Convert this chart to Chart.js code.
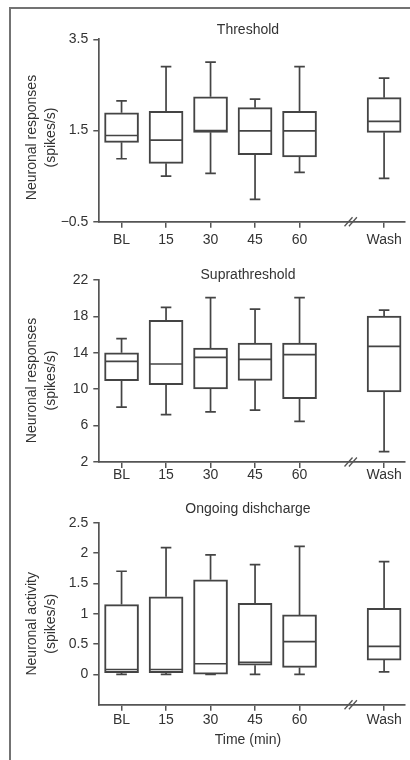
<!DOCTYPE html>
<html>
<head>
<meta charset="utf-8">
<script src="https://cdn.jsdelivr.net/npm/chart.js@4.4.1/dist/chart.umd.min.js"></script>
<style>
html,body{margin:0;padding:0;background:#fff;width:410px;height:760px;overflow:hidden}
#frame{position:absolute;left:9px;top:7px;width:420px;height:780px;border-left:2px solid #737373;border-top:2px solid #737373}
canvas{position:absolute;left:0;display:block}
</style>
</head>
<body>
<div id="frame"></div>
<canvas id="c1" width="410" height="258" style="top:0px"></canvas>
<canvas id="c2" width="410" height="245" style="top:250px"></canvas>
<canvas id="c3" width="410" height="270" style="top:490px"></canvas>
<script>
// ---------- data ----------
const categories = ['BL', '15', '30', '45', '60', 'Wash'];
const timeSlots = [0, 1, 2, 3, 4, 5.9];   // ordinal slots (axis is broken before Wash)
const breakSlot = 5.15;

const thresholdMin    = [0.88, 0.50, 0.56, -0.01, 0.58, 0.45];
const thresholdQ1     = [1.24, 0.78, 1.46, 0.97, 0.92, 1.46];
const thresholdMedian = [1.39, 1.29, 1.50, 1.49, 1.49, 1.70];
const thresholdQ3     = [1.89, 1.92, 2.24, 2.00, 1.92, 2.22];
const thresholdMax    = [2.15, 2.90, 3.00, 2.19, 2.90, 2.65];
const thresholdTicks  = [-0.5, 1.5, 3.5];

const supraMin    = [8.04, 7.2, 7.5, 7.71, 6.47, 3.14];
const supraQ1     = [10.94, 10.5, 10.02, 10.97, 8.96, 9.69];
const supraMedian = [13.06, 12.77, 13.5, 13.28, 13.8, 14.71];
const supraQ3     = [14.0, 17.57, 14.53, 15.08, 15.08, 18.04];
const supraMax    = [15.55, 19.0, 20.06, 18.8, 20.06, 18.7];
const supraTicks  = [2, 6, 10, 14, 18, 22];

const ongoingMin    = [0, 0, 0, 0, 0, 0.04];
const ongoingQ1     = [0.03, 0.03, 0.005, 0.15, 0.115, 0.236];
const ongoingMedian = [0.08, 0.08, 0.175, 0.2, 0.54, 0.46];
const ongoingQ3     = [1.15, 1.28, 1.56, 1.17, 0.98, 1.09];
const ongoingMax    = [1.70, 2.09, 1.97, 1.81, 2.11, 1.86];
const ongoingTicks  = [0, 0.5, 1, 1.5, 2, 2.5];

// ---------- styles ----------
const FONT = "'Liberation Sans', Arial, Helvetica, sans-serif";
const TEXT = '#333333';
const LINE = '#444444';
const AXIS = '#555555';

const boxPlugin = {
  id: 'boxWhiskers',
  afterDatasetsDraw(chart, args, o) {
    const ctx = chart.ctx, y = chart.scales.y;
    const meta = chart.getDatasetMeta(0);
    ctx.save();
    ctx.strokeStyle = LINE;
    ctx.lineWidth = 1.7;
    o.mins.forEach((mn, i) => {
      const bar = meta.data[i];
      const cx = bar.x, half = bar.width / 2 - 1, cap = 5.3;
      const pMin = y.getPixelForValue(mn);
      const pQ1 = y.getPixelForValue(o.q1[i]);
      const pMed = y.getPixelForValue(o.medians[i]);
      const pQ3 = y.getPixelForValue(o.q3[i]);
      const pMax = y.getPixelForValue(o.maxs[i]);
      ctx.beginPath();
      ctx.moveTo(cx, pQ3); ctx.lineTo(cx, pMax);
      ctx.moveTo(cx - cap, pMax); ctx.lineTo(cx + cap, pMax);
      ctx.moveTo(cx, pQ1); ctx.lineTo(cx, pMin);
      ctx.moveTo(cx - cap, pMin); ctx.lineTo(cx + cap, pMin);
      ctx.moveTo(cx - half, pMed); ctx.lineTo(cx + half, pMed);
      ctx.stroke();
    });
    // axis break marks
    const x = chart.scales.x;
    const bx = x.getPixelForValue(breakSlot), by = chart.chartArea.bottom;
    ctx.strokeStyle = AXIS;
    ctx.lineWidth = 1.3;
    ctx.beginPath();
    [-2.2, 2.2].forEach(d => {
      ctx.moveTo(bx + d - 4, by + 4.5);
      ctx.lineTo(bx + d + 4, by - 4.5);
    });
    ctx.stroke();
    ctx.restore();
  }
};

const textPlugin = {
  id: 'panelText',
  afterDraw(chart, args, o) {
    const ctx = chart.ctx;
    ctx.save();
    ctx.fillStyle = TEXT;
    ctx.font = '14px ' + FONT;
    ctx.textAlign = 'center';
    ctx.textBaseline = 'alphabetic';
    ctx.fillText(o.title, 248, o.titleY);
    if (o.xTitle) {
      ctx.textBaseline = 'middle';
      ctx.fillText(o.xTitle, 248, o.xTitleY);
    }
    ctx.textBaseline = 'middle';
    o.yTitle.forEach((line, k) => {
      ctx.save();
      ctx.translate(k === 0 ? 32.5 : 51, o.yTitleY);
      ctx.rotate(-Math.PI / 2);
      ctx.fillText(line, 0, 0);
      ctx.restore();
    });
    ctx.restore();
  }
};

function makePanel(id, cfg) {
  const data = timeSlots.map((s, i) => ({ x: s, y: [cfg.q1[i], cfg.q3[i]] }));
  return new Chart(document.getElementById(id), {
    type: 'bar',
    data: {
      datasets: [{
        data: data,
        backgroundColor: '#ffffff',
        borderColor: LINE,
        borderWidth: 2,
        borderSkipped: false,
        barThickness: 34
      }]
    },
    options: {
      responsive: false,
      animation: false,
      events: [],
      layout: { padding: { left: 0, right: 5, top: cfg.padTop, bottom: cfg.padBottom } },
      plugins: {
        legend: { display: false },
        tooltip: { enabled: false },
        title: { display: false },
        boxWhiskers: { mins: cfg.mins, q1: cfg.q1, medians: cfg.medians, q3: cfg.q3, maxs: cfg.maxs },
        panelText: cfg.text
      },
      scales: {
        x: {
          type: 'linear',
          min: -0.5,
          max: 6.37,
          offset: false,
          grid: { offset: false, drawOnChartArea: false, drawTicks: true, tickLength: 6, color: AXIS, lineWidth: 1.5 },
          border: { display: true, color: AXIS, width: 1.7 },
          afterBuildTicks: s => { s.ticks = timeSlots.map(v => ({ value: v })); },
          afterFit: s => { s.height = cfg.xHeight; },
          ticks: {
            autoSkip: false,
            maxRotation: 0,
            padding: cfg.xPad,
            color: TEXT,
            font: { family: FONT, size: 14 },
            callback: (v, i) => categories[i]
          }
        },
        y: {
          type: 'linear',
          min: cfg.yMin,
          max: cfg.yMax,
          grid: { drawOnChartArea: false, drawTicks: true, tickLength: 6, color: AXIS, lineWidth: 1.5 },
          border: { display: true, color: AXIS, width: 1.7 },
          afterBuildTicks: s => { s.ticks = cfg.ticks.map(v => ({ value: v })); },
          afterFit: s => { s.width = 99.3; },
          ticks: {
            padding: 5,
            color: TEXT,
            font: { family: FONT, size: 14 },
            callback: v => String(v).replace('-', '\u2212')
          }
        }
      }
    },
    plugins: [boxPlugin, textPlugin]
  });
}

makePanel('c1', {
  mins: thresholdMin, q1: thresholdQ1, medians: thresholdMedian, q3: thresholdQ3, maxs: thresholdMax,
  ticks: thresholdTicks, yMin: -0.5, yMax: 3.5,
  padTop: 39.3, padBottom: 258 - 221.7 - 30, xHeight: 30, xPad: 4,
  text: { title: 'Threshold', titleY: 33.8, yTitle: ['Neuronal responses', '(spikes/s)'], yTitleY: 137.5 }
});

makePanel('c2', {
  mins: supraMin, q1: supraQ1, medians: supraMedian, q3: supraQ3, maxs: supraMax,
  ticks: supraTicks, yMin: 2, yMax: 22,
  padTop: 30, padBottom: 245 - 212 - 30, xHeight: 30, xPad: -1,
  text: { title: 'Suprathreshold', titleY: 28.8, yTitle: ['Neuronal responses', '(spikes/s)'], yTitleY: 130.5 }
});

makePanel('c3', {
  mins: ongoingMin, q1: ongoingQ1, medians: ongoingMedian, q3: ongoingQ3, maxs: ongoingMax,
  ticks: ongoingTicks, yMin: -0.5, yMax: 2.5,
  padTop: 32.7, padBottom: 270 - 214.7 - 50, xHeight: 50, xPad: 1,
  text: { title: 'Ongoing dishcharge', titleY: 22.8, yTitle: ['Neuronal activity', '(spikes/s)'], yTitleY: 133.8,
          xTitle: 'Time (min)', xTitleY: 250 }
});
</script>
</body>
</html>
